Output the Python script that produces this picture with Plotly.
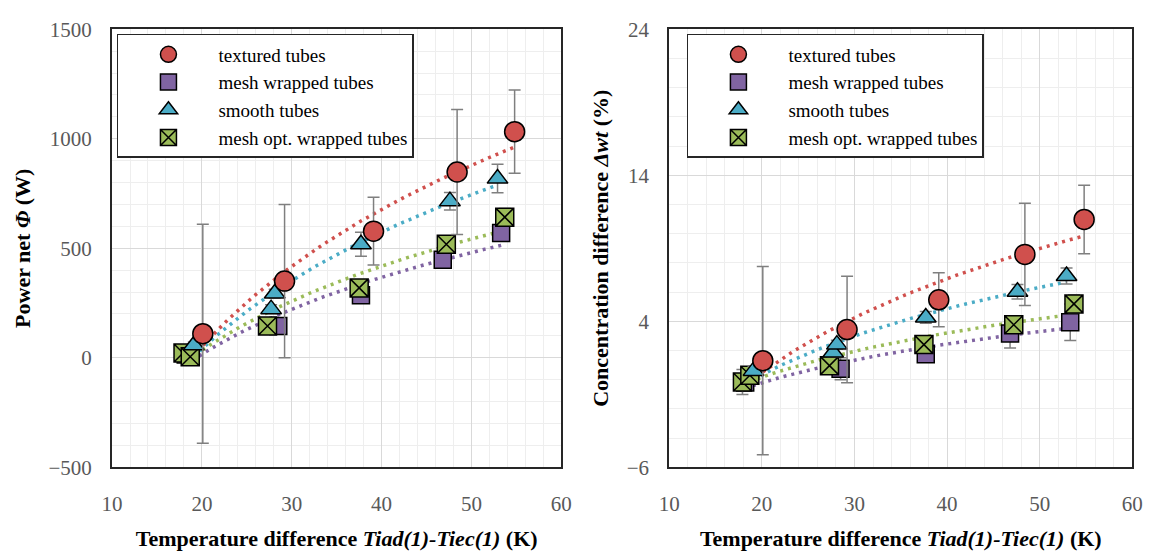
import numpy as np
import plotly.graph_objects as go

# ---------------- data ----------------
series_names = ["textured tubes", "mesh wrapped tubes", "smooth tubes", "mesh opt. wrapped tubes"]

# temperature difference Tiad(1)-Tiec(1) (K)
tex_x = [20.1, 29.2, 39.1, 48.4, 54.8]
mesh_x = [18.2, 28.5, 37.7, 46.8, 53.3]
smooth_x = [19.1, 27.7, 28.1, 37.7, 47.6, 52.9]
opt_x = [17.9, 18.7, 27.3, 37.5, 47.2, 53.7]

# power net (W)
tex_p = [110, 350, 578, 848, 1032]
tex_p_err = [500, 350, 155, 285, 190]
mesh_p = [15, 145, 285, 447, 570]
mesh_p_err = [15, 20, 30, 25, 30]
smooth_p = [57, 222, 293, 518, 715, 818]
smooth_p_err = [15, 20, 20, 55, 40, 65]
opt_p = [22, 5, 145, 319, 518, 642]
opt_p_err = [10, 10, 15, 20, 25, 40]

# concentration difference (%)
tex_c = [1.3, 3.43, 5.47, 8.58, 10.97]
tex_c_err = [6.45, 3.65, 1.85, 3.5, 2.35]
mesh_c = [-0.2, 0.75, 1.74, 3.16, 3.93]
mesh_c_err = [0.4, 0.75, 0.5, 1.0, 1.25]
smooth_c = [0.6, 1.86, 2.4, 4.26, 6.02, 7.1]
smooth_c_err = [0.3, 0.3, 0.3, 0.4, 0.5, 0.55]
opt_c = [-0.16, 0.3, 0.96, 2.4, 3.76, 5.19]
opt_c_err = [0.85, 0.4, 0.3, 0.4, 0.5, 0.6]

x_ticks = [10, 20, 30, 40, 50, 60]
p_ticks = [-500, 0, 500, 1000, 1500]
c_ticks = [-6, 4, 14, 24]

# ---------------- styling ----------------
colors = {"tex": "#D0504D", "mesh": "#8064A2", "smooth": "#4BACC6", "opt": "#9BBB59"}
symbols = {"tex": "circle", "mesh": "square", "smooth": "triangle-up", "opt": "square-x"}
sizes = {"tex": 20, "mesh": 17, "smooth": 18, "opt": 18}
ranks = {"tex": 1, "mesh": 2, "smooth": 3, "opt": 4}
names = dict(zip(["tex", "mesh", "smooth", "opt"], series_names))

SERIF = "Liberation Serif, Times New Roman, serif"

left = {
    "tex": (tex_x, tex_p, tex_p_err),
    "mesh": (mesh_x, mesh_p, mesh_p_err),
    "smooth": (smooth_x, smooth_p, smooth_p_err),
    "opt": (opt_x, opt_p, opt_p_err),
}
right = {
    "tex": (tex_x, tex_c, tex_c_err),
    "mesh": (mesh_x, mesh_c, mesh_c_err),
    "smooth": (smooth_x, smooth_c, smooth_c_err),
    "opt": (opt_x, opt_c, opt_c_err),
}

fig = go.Figure()
draw_order = ["mesh", "opt", "smooth", "tex"]


def add_panel(data, xa, ya, legend_id):
    # logarithmic trendlines (least-squares fit of the plotted data)
    for key in draw_order:
        xs, ys, _ = data[key]
        a, b = np.polyfit(np.log(xs), ys, 1)
        xx = np.linspace(min(xs), max(xs), 60)
        fig.add_trace(go.Scatter(
            x=xx, y=a * np.log(xx) + b, mode="lines", xaxis=xa, yaxis=ya,
            line=dict(color=colors[key], width=3.5, dash="3px,5px"),
            showlegend=False, hoverinfo="skip"))
    for key in draw_order:
        xs, ys, errs = data[key]
        fig.add_trace(go.Scatter(
            x=xs, y=ys, mode="markers", name=names[key], xaxis=xa, yaxis=ya,
            legend=legend_id, legendrank=ranks[key],
            marker=dict(symbol=symbols[key], size=sizes[key], color=colors[key],
                        line=dict(color="black", width=1.5)),
            error_y=dict(type="data", array=errs, visible=True, color="#7f7f7f",
                         thickness=1.5, width=6)))


add_panel(left, "x", "y", "legend")
add_panel(right, "x2", "y2", "legend2")

W, H = 1159, 551
lx0, lx1 = 103 / W, 561 / W
rx0, rx1 = 671 / W, 1143 / W
y0, y1 = 1 - 476 / H, 1 - 18 / H

grid_major = "#d9d9d9"
grid_minor = "#eeeeee"
tickfont = dict(family=SERIF, size=21, color="#595959")
titlefont = dict(family=SERIF, size=22, color="black", weight="bold")

xtitle = "Temperature difference <i>Tiad(1)-Tiec(1)</i> (K)"


def xaxis(domain, anchor):
    return dict(domain=domain, anchor=anchor, range=[10, 60], tickvals=x_ticks,
                showgrid=True, gridcolor=grid_major, gridwidth=1,
                minor=dict(dtick=2, tick0=10, showgrid=True, gridcolor=grid_minor, gridwidth=1),
                showline=True, mirror=True, linecolor="#262626", linewidth=2,
                zeroline=False, ticks="", tickfont=tickfont, ticklabelstandoff=17,
                title=dict(text=xtitle, font=titlefont, standoff=16))


def yaxis(domain, anchor, rng, ticks, minor_dtick, title):
    return dict(domain=domain, anchor=anchor, range=rng, tickvals=ticks,
                showgrid=True, gridcolor=grid_major, gridwidth=1,
                minor=dict(dtick=minor_dtick, tick0=rng[0], showgrid=True, gridcolor=grid_minor, gridwidth=1),
                showline=True, mirror=True, linecolor="#262626", linewidth=2,
                zeroline=False, ticks="", tickfont=tickfont, ticklabelstandoff=14,
                title=dict(text=title, font=titlefont, standoff=12))


legend_common = dict(bgcolor="white", bordercolor="#262626", borderwidth=1.5,
                     font=dict(family=SERIF, size=19, color="black"),
                     xanchor="left", yanchor="top", itemwidth=90, tracegroupgap=0,
                     traceorder="normal")

fig.update_layout(
    width=W, height=H, margin=dict(l=0, r=0, t=0, b=0),
    paper_bgcolor="white", plot_bgcolor="white",
    showlegend=True,
    xaxis=xaxis([lx0, lx1], "y"),
    yaxis=yaxis([y0, y1], "x", [-500, 1500], p_ticks, 100, "Power net <i>Φ</i> (W)"),
    xaxis2=xaxis([rx0, rx1], "y2"),
    yaxis2=yaxis([y0, y1], "x2", [-6, 24], c_ticks, 2, "Concentration difference <i>Δwt</i> (%)"),
    legend=dict(x=108 / W, y=1 - 23 / H, **legend_common),
    legend2=dict(x=689 / W, y=1 - 23 / H, **legend_common),
)

fig.write_html("out.html")
